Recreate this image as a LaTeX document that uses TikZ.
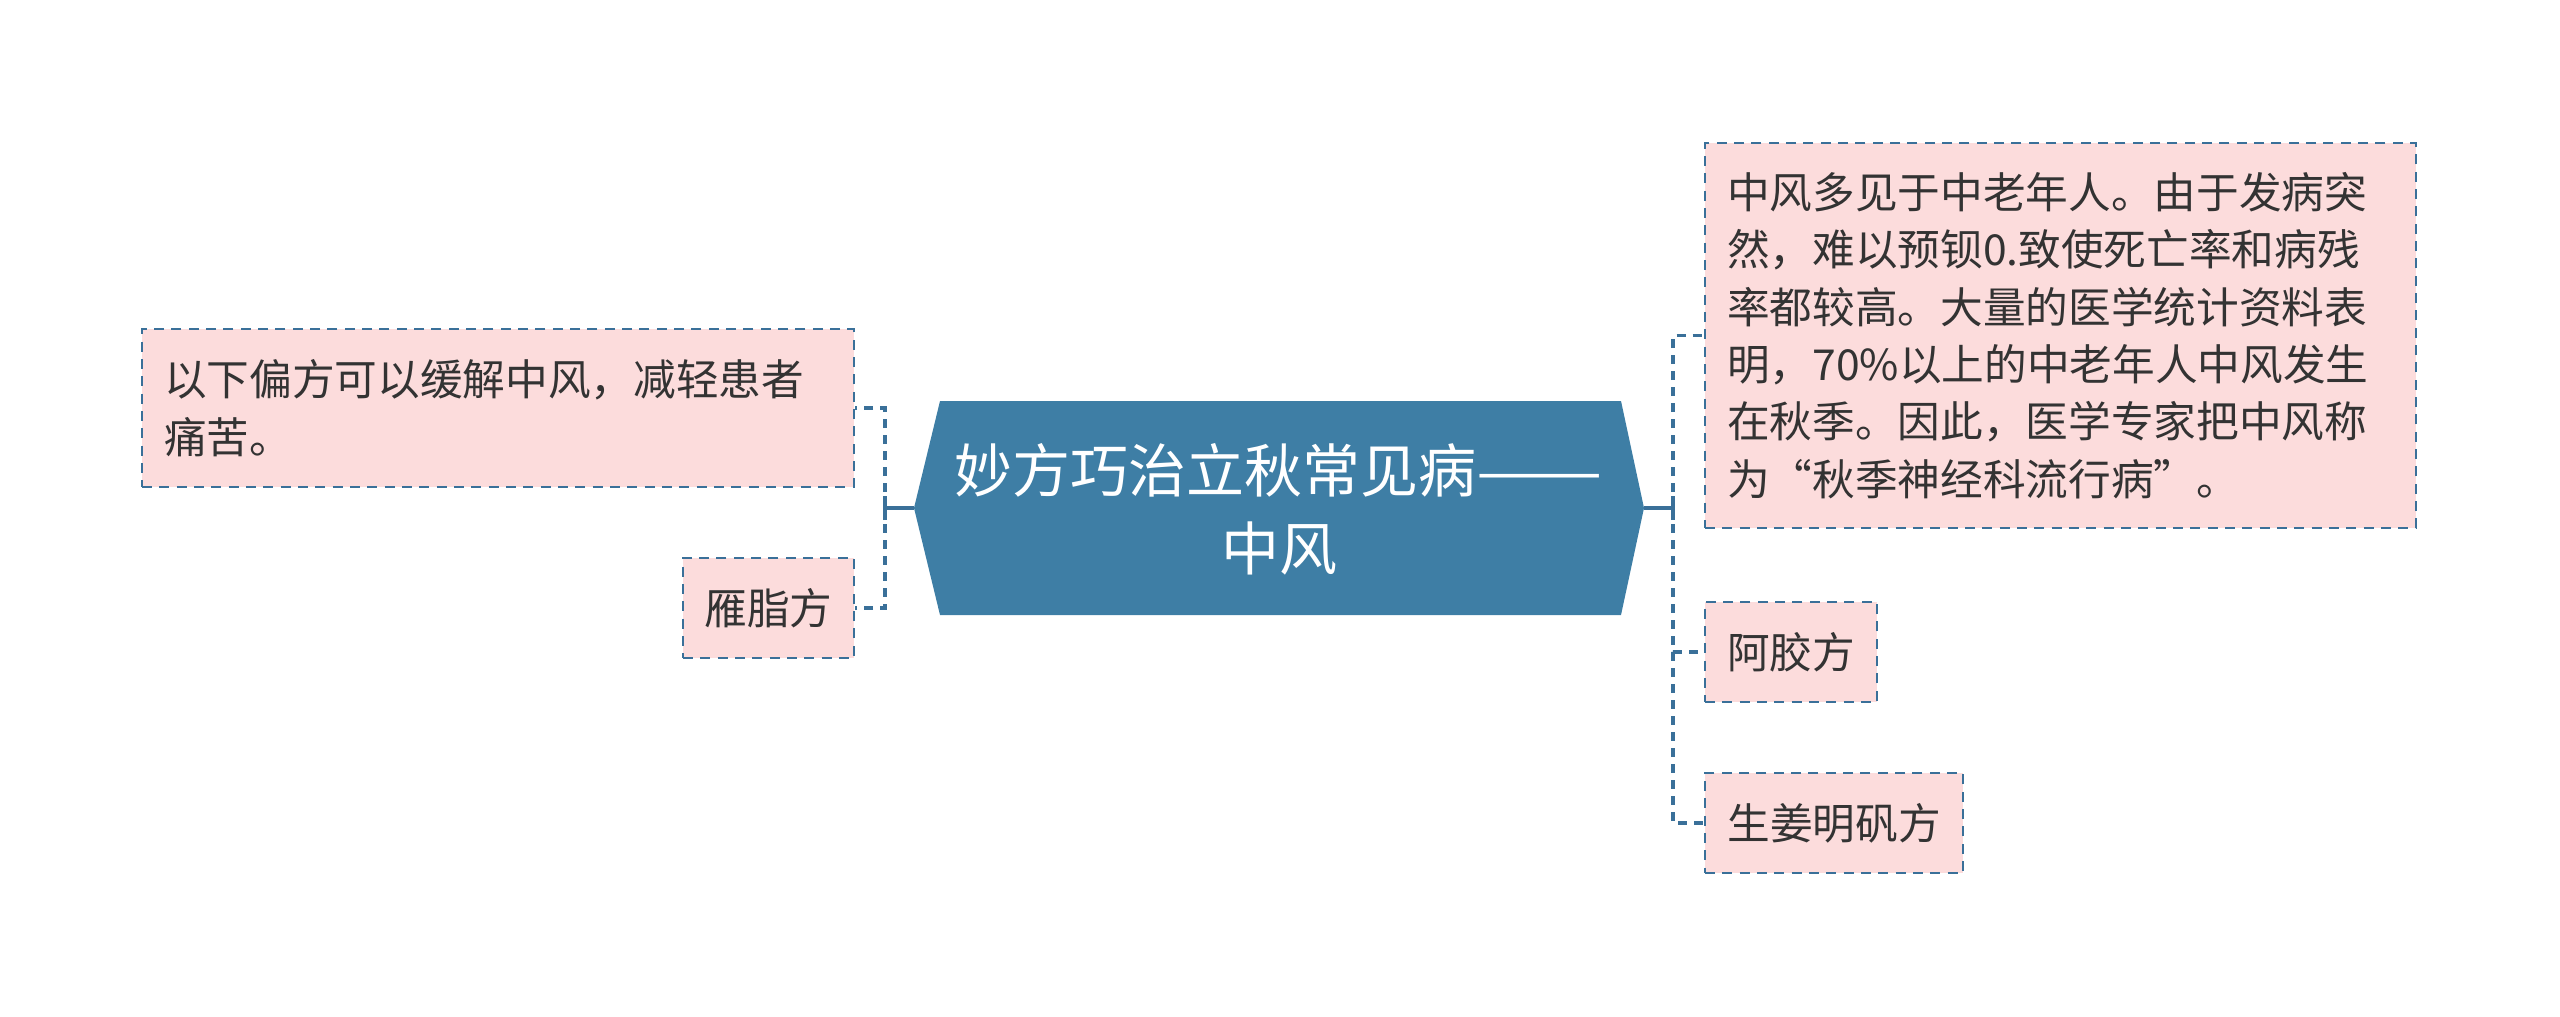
\documentclass[tikz,border=0pt]{standalone}
\usepackage{fontspec}
\setmainfont{Noto Sans CJK SC}
\definecolor{hexblue}{HTML}{3E7EA5}
\definecolor{linkblue}{HTML}{3A7099}
\definecolor{boxpink}{HTML}{FCDCDC}
\definecolor{txt}{HTML}{333333}
\tikzset{
  leaf/.style={draw=linkblue, fill=boxpink, line width=2pt, dash pattern=on 7.5pt off 5.5pt,
    inner sep=0pt, text=txt, font={\fontsize{32}{43}\selectfont}, align=center, minimum height=75pt},
  leafwide/.style={leaf, align=left, inner xsep=16.5pt},
  conn/.style={draw=linkblue, line width=2.6pt, dash pattern=on 7pt off 5pt},
  stub/.style={draw=linkblue, line width=2.6pt},
  hexshape/.style={fill=hexblue},
  centertext/.style={text=white, font={\fontsize{43.5}{58.5}\selectfont}, align=center, inner sep=0pt}
}
\begin{document}
\begin{tikzpicture}[x=0.75pt,y=-0.75pt]
\useasboundingbox (0,0) rectangle (2560,1017);
% central hexagon
\coordinate (hl) at (914,508);
\coordinate (hr) at (1644,508);
\fill[hexshape] (hl) -- (940,401) -- (1621,401) -- (hr) -- (1621,615) -- (940,615) -- cycle;
\node[centertext] (c) at (1279,509) {妙方巧治立秋常见病\scalebox{1.3}[1]{——}\\中风};
% junctions
\coordinate (jl) at (885,508);
\coordinate (jr) at (1673,508);
% left nodes
\node[leafwide, text width=501pt, minimum height=118.5pt] (L1) at (498,408)
  {以下偏方可以缓解中风，减轻患者\\痛苦。};
\node[leaf, minimum width=128.25pt] (L2) at (768.5,608) {雁脂方};
% right nodes
\node[leafwide, text width=500.25pt, minimum height=288.75pt] (R1) at (2060.5,335.5)
  {中风多见于中老年人。由于发病突\\然，难以预钡0.致使死亡率和病残\\率都较高。大量的医学统计资料表\\明，70\%以上的中老年人中风发生\\在秋季。因此，医学专家把中风称\\为“秋季神经科流行病”。};
\node[leaf, minimum width=129pt] (R2) at (1791,652) {阿胶方};
\node[leaf, minimum width=193.5pt] (R3) at (1834,823) {生姜明矾方};
% connectors
\draw[stub] (hl) -- (jl);
\draw[stub] ([yshift=-9pt]jl) -- ([yshift=9pt]jl);
\draw[conn] (jl) |- (L1.east);
\draw[conn] (jl) |- (L2.east);
\draw[stub] (hr) -- (jr);
\draw[stub] ([yshift=-9pt]jr) -- ([yshift=9pt]jr);
\draw[conn] (jr) |- (R1.west);
\draw[conn] (jr) |- (R2.west);
\draw[conn] (jr) |- (R3.west);
\end{tikzpicture}
\end{document}
